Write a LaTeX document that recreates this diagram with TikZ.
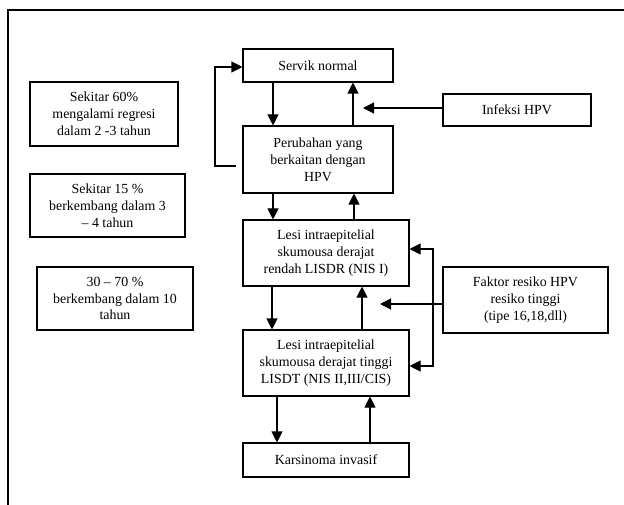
\documentclass[tikz,border=0pt]{standalone}
\usepackage{fontspec}
\setmainfont{Liberation Serif}
\usetikzlibrary{arrows.meta}
\begin{document}
\begin{tikzpicture}[x=1pt,y=-1pt,
  box/.style={draw,line width=1.1pt,align=center,inner sep=0pt,
    font=\fontsize{13.9}{16.8}\selectfont},
  conn/.style={line width=1.1pt,-{Triangle[length=11pt,width=11pt]}}]
\useasboundingbox (0,0) rectangle (624,505);
\draw[line width=1.2pt] (8,505) -- (8,10) -- (624,10);
% main column
\node[box,minimum width=150pt,minimum height=33pt] (sn) at (318,65.5) {Servik normal};
\node[box,minimum width=150pt,minimum height=67pt] (pb) at (318,159.5) {Perubahan yang\\berkaitan dengan\\HPV};
\node[box,minimum width=166pt,minimum height=66pt] (lr) at (326,253) {Lesi intraepitelial\\skumousa derajat\\rendah LISDR (NIS I)};
\node[box,minimum width=166pt,minimum height=66pt] (lt) at (326,363) {Lesi intraepitelial\\skumousa derajat tinggi\\LISDT (NIS II,III/CIS)};
\node[box,minimum width=166pt,minimum height=34pt] (ki) at (326,460) {Karsinoma invasif};
% right
\node[box,minimum width=148pt,minimum height=32pt] (ih) at (517,110) {Infeksi HPV};
\node[box,minimum width=165pt,minimum height=66pt] (fr) at (525.5,300) {Faktor resiko HPV\\resiko tinggi\\(tipe 16,18,dll)};
% left
\node[box,minimum width=148pt,minimum height=64pt] (l1) at (104,114) {Sekitar 60\%\\mengalami regresi\\dalam 2 -3 tahun};
\node[box,minimum width=155pt,minimum height=63pt] (l2) at (107.5,205.5) {Sekitar 15 \%\\berkembang dalam 3\\– 4 tahun};
\node[box,minimum width=156pt,minimum height=63pt] (l3) at (115,298.5) {30 – 70 \%\\berkembang dalam 10\\tahun};
% vertical arrows
\draw[conn] (sn.south -| 273,0) -- (pb.north -| 273,0);
\draw[conn] (pb.north -| 353,0) -- (sn.south -| 353,0);
\draw[conn] (pb.south -| 273,0) -- (lr.north -| 273,0);
\draw[conn] (lr.north -| 354,0) -- (pb.south -| 354,0);
\draw[conn] (lr.south -| 272,0) -- (lt.north -| 272,0);
\draw[conn] (lt.north -| 362,0) -- (lr.south -| 362,0);
\draw[conn] (lt.south -| 277,0) -- (ki.north -| 277,0);
\draw[conn] (ki.north -| 370,0) -- (lt.south -| 370,0);
% loop back
\coordinate (lp) at (236,166);
\draw[conn] (lp) -- (215,166) -- (215,67) -- (sn.west |- 0,67);
% infeksi
\coordinate (ia) at (363,108);
\draw[conn] (ih.west |- 0,108) -- (ia);
% faktor
\coordinate (fa) at (380,304);
\draw[conn] (fr.west |- 0,304) -- (fa);
% bracket
\coordinate (b1) at (433,249);
\coordinate (b2) at (433,366);
\draw[conn] (b2) -- (b1) -- (lr.east |- b1);
\draw[conn] (b1) -- (b2) -- (lt.east |- b2);
\end{tikzpicture}
\end{document}
